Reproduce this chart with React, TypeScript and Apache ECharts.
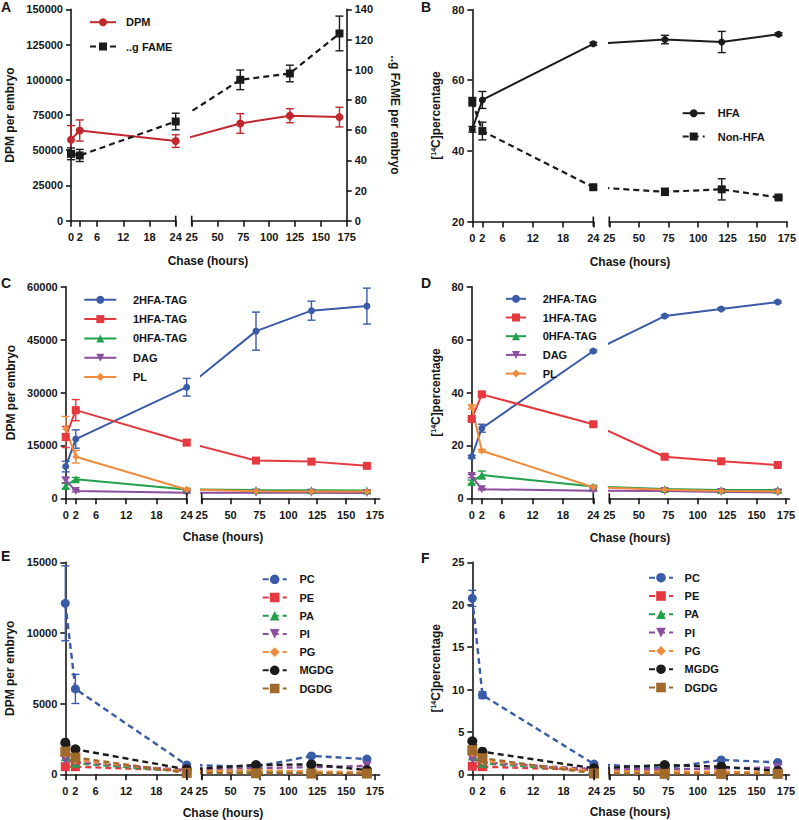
import React, { useEffect, useRef } from "react";
import * as echarts from "echarts";

const HOURS = [0, 2, 24, 72, 120, 168];
const LEFT_TICKS = [0, 2, 6, 12, 18, 24];
const RIGHT_TICKS = [25, 50, 75, 100, 125, 150, 175];

// Panel A
const A_DPM = [57500, 64000, 56500, 69000, 74500, 73500];
const A_DPM_ERR = [10000, 7500, 4500, 7000, 5000, 7000];
const A_FAME = [44.3, 43.2, 65.7, 93.3, 97.5, 124];
const A_FAME_ERR = [3.9, 4, 5.5, 6.5, 5.5, 11.5];

// Panel B
const B_HFA = [46.1, 54.4, 70.3, 71.5, 70.8, 73.0];
const B_HFA_ERR = [0.8, 2.4, 0.4, 1.2, 3.0, 0.4];
const B_NON = [53.9, 45.6, 29.7, 28.4, 29.1, 26.8];
const B_NON_ERR = [1.2, 2.5, 0.4, 1.0, 3.0, 0.4];

// Panel C
const C_TAG2 = [9000, 16800, 31500, 47400, 53200, 54500];
const C_TAG2_ERR = [1500, 2600, 2500, 5400, 2700, 5100];
const C_TAG1 = [17400, 25000, 15800, 10700, 10400, 9200];
const C_TAG1_ERR = [3000, 3000, 800, 500, 700, 400];
const C_TAG0 = [3500, 5400, 2500, 2350, 2300, 2200];
const C_TAG0_ERR = [700, 500, 300, 200, 200, 200];
const C_DAG = [5100, 2100, 1600, 1600, 1550, 1500];
const C_DAG_ERR = [700, 300, 200, 100, 100, 100];
const C_PL = [19800, 11800, 2500, 2000, 1950, 1900];
const C_PL_ERR = [3400, 1800, 300, 200, 200, 200];

// Panel D
const D_TAG2 = [15.7, 26.5, 55.7, 68.9, 71.6, 74.2];
const D_TAG2_ERR = [0.5, 1.5, 0.4, 0.4, 0.4, 0.4];
const D_TAG1 = [30.0, 39.3, 28.0, 15.7, 14.0, 12.6];
const D_TAG1_ERR = [0.5, 0.8, 0.4, 0.4, 0.4, 0.4];
const D_TAG0 = [6.2, 8.8, 4.5, 3.5, 3.1, 3.1];
const D_TAG0_ERR = [0.7, 1.5, 0.4, 0.3, 0.3, 0.3];
const D_DAG = [8.4, 3.4, 2.9, 2.8, 2.4, 2.2];
const D_DAG_ERR = [0.6, 0.3, 0.2, 0.2, 0.2, 0.2];
const D_PL = [34.6, 18.0, 4.2, 3.2, 2.8, 2.6];
const D_PL_ERR = [0.8, 0.5, 0.3, 0.2, 0.2, 0.2];

// Panel E
const E_PC = [12100, 6040, 660, 540, 1300, 1080];
const E_PC_ERR = [2650, 1030, 100, 100, 100, 100];
const E_PE = [540, 540, 260, 200, 70, 70];
const E_PA = [1250, 780, 200, 150, 100, 100];
const E_PI = [1000, 850, 300, 450, 500, 590];
const E_PG = [1450, 1000, 200, 300, 200, 150];
const E_MGDG = [2240, 1770, 350, 660, 700, 300];
const E_DGDG = [1600, 1180, 100, 70, 50, 50];

// Panel F
const F_PC = [20.75, 9.35, 1.2, 0.7, 1.7, 1.4];
const F_PC_ERR = [0.95, 0.4, 0.1, 0.1, 0.1, 0.1];
const F_PE = [0.95, 0.9, 0.5, 0.3, 0.05, 0.05];
const F_PA = [2.15, 1.3, 0.4, 0.3, 0.2, 0.2];
const F_PI = [1.8, 1.4, 0.6, 0.6, 0.7, 0.8];
const F_PG = [2.5, 1.6, 0.4, 0.3, 0.3, 0.2];
const F_MGDG = [3.9, 2.67, 0.7, 1.1, 0.9, 0.4];
const F_DGDG = [2.85, 1.9, 0.1, 0.05, 0.05, 0.05];

const FONT = "'Liberation Sans', Arial, Helvetica, sans-serif";
const INK = "#161616";
const RED_A = "#c1282e";
const BLUE = "#3a5ba8";
const RED = "#e5393f";
const GREEN = "#22a04b";
const PURPLE = "#8c4e9f";
const ORANGE = "#ef8b3b";
const BLACK = "#1b1b1b";
const BROWN = "#a06a2a";

type Layout = { lx0: number; lx1: number; rx0: number; rx175: number; rmax: number; top: number; bottom: number };
type SeriesCfg = {
  name: string; values: number[]; errs?: number[]; color: string; symbol: string;
  symbolSize: number; dashed?: boolean; width?: number; axis?: number;
};
type YCfg = { min: number; max: number; interval: number; name: string; nameGap: number; rich?: boolean; rotate?: number };
type PanelCfg = {
  layout: Layout; yAxes: YCfg[]; series: SeriesCfg[];
  legend: { left: number; top: number; itemWidth: number; itemHeight: number; itemGap: number; pad: number };
  letter: string; letterX: number; letterY: number; titleX: number; titleY: number;
};

const SUP_RICH = {
  sup: { fontSize: 7, fontWeight: "bold", fontFamily: FONT, color: INK, padding: [0, 0, 5, 0] },
};

function buildOption(panels: PanelCfg[]) {
  const grids: any[] = [];
  const xAxes: any[] = [];
  const yAxes: any[] = [];
  const series: any[] = [];
  const legends: any[] = [];
  const graphics: any[] = [];
  const axisLineStyle = { color: INK, width: 1.6 };
  const labelStyle = { color: INK, fontFamily: FONT, fontWeight: "bold", fontSize: 11 };

  panels.forEach((cfg) => {
    const L = cfg.layout;
    const pph = (L.rx175 - L.rx0) / 150;
    const h = L.bottom - L.top;
    const gL = grids.length;
    grids.push({ left: L.lx0, top: L.top, width: L.lx1 - L.lx0, height: h });
    const gR = grids.length;
    grids.push({ left: L.rx0, top: L.top, width: (L.rmax - 25) * pph, height: h });

    const xL = xAxes.length;
    xAxes.push({
      gridIndex: gL, type: "value", min: 0, max: 24,
      axisLine: { show: true, onZero: false, lineStyle: axisLineStyle },
      axisTick: { show: true, length: 6, customValues: LEFT_TICKS, lineStyle: axisLineStyle },
      axisLabel: { ...labelStyle, margin: 11, customValues: LEFT_TICKS, formatter: (v: number) => String(v) },
      splitLine: { show: false },
    });
    const xR = xAxes.length;
    xAxes.push({
      gridIndex: gR, type: "value", min: 25, max: L.rmax,
      axisLine: { show: true, onZero: false, lineStyle: axisLineStyle },
      axisTick: { show: true, length: 6, customValues: RIGHT_TICKS, lineStyle: axisLineStyle },
      axisLabel: { ...labelStyle, margin: 11, customValues: RIGHT_TICKS, formatter: (v: number) => String(v) },
      splitLine: { show: false },
    });

    const yIdx = cfg.yAxes.map((ya, k) => {
      const base = {
        type: "value", min: ya.min, max: ya.max, interval: ya.interval,
        axisLine: { show: true, lineStyle: axisLineStyle },
        axisTick: { show: true, length: 5, lineStyle: axisLineStyle },
        axisLabel: { ...labelStyle, margin: 8, formatter: (v: number) => String(v) },
        splitLine: { show: false },
        name: ya.rich ? "[{sup|14}C]percentage" : ya.name,
        nameLocation: "middle",
        nameGap: ya.nameGap,
        nameRotate: ya.rotate,
        nameTextStyle: { color: INK, fontFamily: FONT, fontWeight: "bold", fontSize: 12, rich: SUP_RICH },
      };
      const iL = yAxes.length;
      yAxes.push({ ...base, gridIndex: gL, show: k === 0 });
      const iR = yAxes.length;
      yAxes.push({ ...base, gridIndex: gR, show: k === 1, position: "right" });
      return [iL, iR];
    });

    // where the 24 h point sits in the right segment's scale (across the axis break)
    const virtualX = 25 - (L.rx0 - L.lx1) / pph;
    const i24 = HOURS.indexOf(24);

    // error bars first (behind the lines)
    cfg.series.forEach((s) => {
      if (!s.errs) return;
      const [iL, iR] = yIdx[s.axis || 0];
      const mk = (keep: (hr: number) => boolean) =>
        HOURS.map((hr, j) => [hr, s.values[j] - s.errs![j], s.values[j] + s.errs![j]]).filter((d) => keep(d[0]));
      const renderItem = (params: any, api: any) => {
        const x = api.value(0);
        const lo = api.coord([x, api.value(1)]);
        const hi = api.coord([x, api.value(2)]);
        const w = 4;
        const style = { stroke: s.color, lineWidth: 1.4, fill: "none" };
        return {
          type: "group",
          children: [
            { type: "line", shape: { x1: lo[0], y1: lo[1], x2: hi[0], y2: hi[1] }, style },
            { type: "line", shape: { x1: lo[0] - w, y1: lo[1], x2: lo[0] + w, y2: lo[1] }, style },
            { type: "line", shape: { x1: hi[0] - w, y1: hi[1], x2: hi[0] + w, y2: hi[1] }, style },
          ],
        };
      };
      series.push({
        type: "custom", name: "err-" + s.name, xAxisIndex: xL, yAxisIndex: iL,
        data: mk((hr) => hr <= 24), renderItem, encode: { x: 0, y: [1, 2] }, z: 2, silent: true,
      });
      series.push({
        type: "custom", name: "err-" + s.name, xAxisIndex: xR, yAxisIndex: iR,
        data: mk((hr) => hr > 24), renderItem, encode: { x: 0, y: [1, 2] }, z: 2, silent: true,
      });
    });

    cfg.series.forEach((s) => {
      const [iL, iR] = yIdx[s.axis || 0];
      const common = {
        type: "line", name: s.name, symbol: s.symbol, symbolSize: s.symbolSize,
        showAllSymbol: true,
        lineStyle: { color: s.color, width: s.width || 2, type: s.dashed ? [6, 4] : "solid" },
        itemStyle: { color: s.color },
        z: 3, silent: true,
      };
      const leftData = HOURS.map((hr, j) => [hr, s.values[j]]).filter((d) => d[0] <= 24);
      const rightData: any[] = [{ value: [virtualX, s.values[i24]], symbol: "none" }];
      HOURS.forEach((hr, j) => {
        if (hr > 24) rightData.push([hr, s.values[j]]);
      });
      series.push({ ...common, xAxisIndex: xL, yAxisIndex: iL, data: leftData });
      series.push({ ...common, xAxisIndex: xR, yAxisIndex: iR, data: rightData, clip: true });
    });

    const lg = cfg.legend;
    legends.push({
      orient: "vertical", left: lg.left, top: lg.top, padding: 0,
      itemWidth: lg.itemWidth, itemHeight: lg.itemHeight, itemGap: lg.itemGap,
      selectedMode: false,
      data: cfg.series.map((s) => s.name),
      textStyle: {
        color: INK, fontFamily: FONT, fontWeight: "bold", fontSize: 11,
        lineHeight: lg.itemHeight, padding: [0, 0, 0, lg.pad],
      },
    });

    // axis-break marks
    [L.lx1, L.rx0].forEach((x) => {
      graphics.push({
        type: "line", shape: { x1: x, y1: L.bottom - 5, x2: x, y2: L.bottom + 5 },
        style: { stroke: INK, lineWidth: 1.6 }, z: 10,
      });
    });
    graphics.push({
      type: "text", x: cfg.titleX, y: cfg.titleY,
      style: { text: "Chase (hours)", font: `bold 12px ${FONT}`, fill: INK, textAlign: "center", textVerticalAlign: "middle" },
    });
    graphics.push({
      type: "text", x: cfg.letterX, y: cfg.letterY,
      style: { text: cfg.letter, font: `bold 14px ${FONT}`, fill: INK, textVerticalAlign: "middle" },
    });
  });

  return {
    animation: false,
    grid: grids,
    xAxis: xAxes,
    yAxis: yAxes,
    series,
    legend: legends,
    graphic: { elements: graphics },
  };
}

const PANELS: PanelCfg[] = [
  {
    layout: { lx0: 71, lx1: 175.7, rx0: 191.7, rx175: 346.7, rmax: 175, top: 9.3, bottom: 220.7 },
    yAxes: [
      { min: 0, max: 150000, interval: 25000, name: "DPM per embryo", nameGap: 55 },
      { min: 0, max: 140, interval: 20, name: "..g FAME per embryo", nameGap: 42, rotate: -90 },
    ],
    series: [
      { name: "DPM", values: A_DPM, errs: A_DPM_ERR, color: RED_A, symbol: "circle", symbolSize: 8 },
      { name: "..g FAME", values: A_FAME, errs: A_FAME_ERR, color: BLACK, symbol: "rect", symbolSize: 8, dashed: true, axis: 1, width: 2.2 },
    ],
    legend: { left: 89, top: 16.7, itemWidth: 26, itemHeight: 10, itemGap: 13.3, pad: 5 },
    letter: "A", letterX: 1, letterY: 7, titleX: 208, titleY: 261,
  },
  {
    layout: { lx0: 472.3, lx1: 593.3, rx0: 609.3, rx175: 787.5, rmax: 175, top: 9.5, bottom: 221.5 },
    yAxes: [{ min: 20, max: 80, interval: 20, name: "", nameGap: 30, rich: true }],
    series: [
      { name: "HFA", values: B_HFA, errs: B_HFA_ERR, color: BLACK, symbol: "circle", symbolSize: 7 },
      { name: "Non-HFA", values: B_NON, errs: B_NON_ERR, color: BLACK, symbol: "rect", symbolSize: 8, dashed: true, width: 2.2 },
    ],
    legend: { left: 681.7, top: 107.7, itemWidth: 22, itemHeight: 10, itemGap: 12.3, pad: 8 },
    letter: "B", letterX: 421, letterY: 7, titleX: 630, titleY: 262,
  },
  {
    layout: { lx0: 65.7, lx1: 186.7, rx0: 201.7, rx175: 375, rmax: 179, top: 286.7, bottom: 498.3 },
    yAxes: [{ min: 0, max: 60000, interval: 15000, name: "DPM per embryo", nameGap: 49 }],
    series: [
      { name: "2HFA-TAG", values: C_TAG2, errs: C_TAG2_ERR, color: BLUE, symbol: "circle", symbolSize: 7 },
      { name: "1HFA-TAG", values: C_TAG1, errs: C_TAG1_ERR, color: RED, symbol: "rect", symbolSize: 8 },
      { name: "0HFA-TAG", values: C_TAG0, errs: C_TAG0_ERR, color: GREEN, symbol: "triangle", symbolSize: 8 },
      { name: "DAG", values: C_DAG, errs: C_DAG_ERR, color: PURPLE, symbol: "path://M0,0L10,0L5,9Z", symbolSize: 8 },
      { name: "PL", values: C_PL, errs: C_PL_ERR, color: ORANGE, symbol: "diamond", symbolSize: 7 },
    ],
    legend: { left: 83.3, top: 294.3, itemWidth: 32, itemHeight: 10, itemGap: 8.3, pad: 11.7 },
    letter: "C", letterX: 1, letterY: 283, titleX: 223, titleY: 537,
  },
  {
    layout: { lx0: 471.7, lx1: 593.3, rx0: 609.3, rx175: 786, rmax: 178, top: 286.7, bottom: 498.3 },
    yAxes: [{ min: 0, max: 80, interval: 20, name: "", nameGap: 30, rich: true }],
    series: [
      { name: "2HFA-TAG", values: D_TAG2, errs: D_TAG2_ERR, color: BLUE, symbol: "circle", symbolSize: 7 },
      { name: "1HFA-TAG", values: D_TAG1, errs: D_TAG1_ERR, color: RED, symbol: "rect", symbolSize: 8 },
      { name: "0HFA-TAG", values: D_TAG0, errs: D_TAG0_ERR, color: GREEN, symbol: "triangle", symbolSize: 8 },
      { name: "DAG", values: D_DAG, errs: D_DAG_ERR, color: PURPLE, symbol: "path://M0,0L10,0L5,9Z", symbolSize: 8 },
      { name: "PL", values: D_PL, errs: D_PL_ERR, color: ORANGE, symbol: "diamond", symbolSize: 7 },
    ],
    legend: { left: 505, top: 293.3, itemWidth: 20, itemHeight: 10, itemGap: 7.7, pad: 11.7 },
    letter: "D", letterX: 421, letterY: 283, titleX: 630, titleY: 538,
  },
  {
    layout: { lx0: 65.3, lx1: 186.7, rx0: 201.7, rx175: 375, rmax: 179, top: 562.3, bottom: 774.3 },
    yAxes: [{ min: 0, max: 15000, interval: 5000, name: "DPM per embryo", nameGap: 49 }],
    series: [
      { name: "PC", values: E_PC, errs: E_PC_ERR, color: BLUE, symbol: "circle", symbolSize: 9, dashed: true, width: 2.4 },
      { name: "PE", values: E_PE, color: RED, symbol: "rect", symbolSize: 9, dashed: true, width: 2.4 },
      { name: "PA", values: E_PA, color: GREEN, symbol: "triangle", symbolSize: 9, dashed: true, width: 2.4 },
      { name: "PI", values: E_PI, color: PURPLE, symbol: "path://M0,0L10,0L5,9Z", symbolSize: 9, dashed: true, width: 2.4 },
      { name: "PG", values: E_PG, color: ORANGE, symbol: "diamond", symbolSize: 9, dashed: true, width: 2.4 },
      { name: "MGDG", values: E_MGDG, color: BLACK, symbol: "circle", symbolSize: 10, dashed: true, width: 2.4 },
      { name: "DGDG", values: E_DGDG, color: BROWN, symbol: "rect", symbolSize: 10, dashed: true, width: 2.4 },
    ],
    legend: { left: 261.7, top: 573.3, itemWidth: 24, itemHeight: 12, itemGap: 6.2, pad: 7.7 },
    letter: "E", letterX: 1, letterY: 556, titleX: 223, titleY: 813,
  },
  {
    layout: { lx0: 472.3, lx1: 594, rx0: 609.3, rx175: 786, rmax: 178, top: 562.3, bottom: 774.3 },
    yAxes: [{ min: 0, max: 25, interval: 5, name: "", nameGap: 30, rich: true }],
    series: [
      { name: "PC", values: F_PC, errs: F_PC_ERR, color: BLUE, symbol: "circle", symbolSize: 9, dashed: true, width: 2.4 },
      { name: "PE", values: F_PE, color: RED, symbol: "rect", symbolSize: 9, dashed: true, width: 2.4 },
      { name: "PA", values: F_PA, color: GREEN, symbol: "triangle", symbolSize: 9, dashed: true, width: 2.4 },
      { name: "PI", values: F_PI, color: PURPLE, symbol: "path://M0,0L10,0L5,9Z", symbolSize: 9, dashed: true, width: 2.4 },
      { name: "PG", values: F_PG, color: ORANGE, symbol: "diamond", symbolSize: 9, dashed: true, width: 2.4 },
      { name: "MGDG", values: F_MGDG, color: BLACK, symbol: "circle", symbolSize: 10, dashed: true, width: 2.4 },
      { name: "DGDG", values: F_DGDG, color: BROWN, symbol: "rect", symbolSize: 10, dashed: true, width: 2.4 },
    ],
    legend: { left: 648, top: 571.7, itemWidth: 24, itemHeight: 12, itemGap: 6.3, pad: 6.6 },
    letter: "F", letterX: 421, letterY: 558, titleX: 630, titleY: 812,
  },
];

export default function App() {
  const ref = useRef<HTMLDivElement>(null);
  useEffect(() => {
    if (!ref.current) return;
    const chart = echarts.init(ref.current, undefined, { renderer: "svg" });
    chart.setOption(buildOption(PANELS) as any);
    return () => chart.dispose();
  }, []);
  return (
    <div
      ref={ref}
      style={{ position: "fixed", left: 0, top: 0, width: 799, height: 820, background: "#fff" }}
    />
  );
}
